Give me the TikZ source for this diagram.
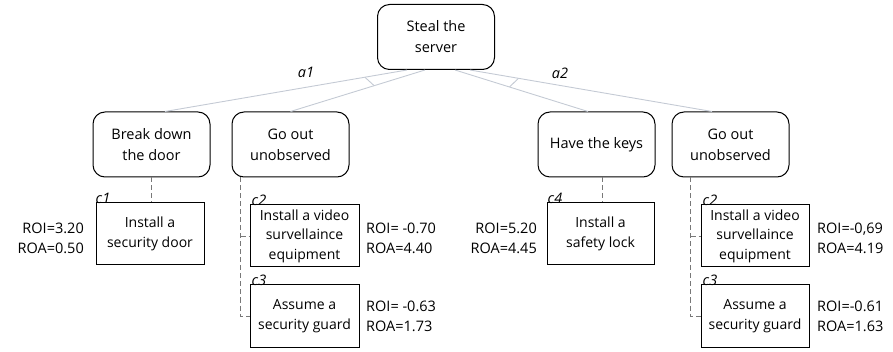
\documentclass[tikz,border=0pt]{standalone}
\usepackage{fontspec}
\setmainfont{Open Sans}
\usetikzlibrary{calc}
\begin{document}
\begin{tikzpicture}[x=1pt,y=-1pt,
  goal/.style={draw=black,line width=1pt,rounded corners=12pt,minimum width=117pt,minimum height=65pt,align=center,font=\fontsize{14.5}{21}\selectfont,inner sep=2pt},
  ctrl/.style={draw=black,line width=1pt,minimum width=108pt,minimum height=62pt,align=center,font=\fontsize{14}{19.5}\selectfont,inner sep=2pt},
  refine/.style={draw=edgegray,line width=0.9pt},
  cmlink/.style={draw=dashgray,line width=0.9pt,dash pattern=on 5pt off 3pt},
  lab/.style={font=\fontsize{14.5}{20}\selectfont\itshape,inner sep=0pt},
  clab/.style={font=\fontsize{14.5}{20}\selectfont\itshape,inner sep=0pt,anchor=south west},
  metr/.style={font=\fontsize{14.5}{20}\selectfont,inner sep=0pt}
]
\definecolor{edgegray}{RGB}{196,202,212}
\definecolor{dashgray}{RGB}{120,120,120}
\useasboundingbox (0,0) rectangle (893,352);

% goals
\node[goal] (root) at (436,37) {Steal the\\server};
\node[goal] (brk) at (151.5,144.5) {Break down\\the door};
\node[goal] (go1) at (290.5,144.5) {Go out\\unobserved};
\node[goal] (keys) at (596.5,144.5) {Have the keys};
\node[goal] (go2) at (730.5,144.5) {Go out\\unobserved};

% controls
\node[ctrl] (door) at (150,234) {Install a\\security door};
\node[ctrl,minimum width=109pt] (vid1) at (304.5,236) {Install a video\\survellaince\\equipment};
\node[ctrl,minimum width=109pt] (grd1) at (304.5,316) {Assume a\\security guard};
\node[ctrl,minimum width=107pt] (lock) at (600.5,234) {Install a\\safety lock};
\node[ctrl] (vid2) at (755,236) {Install a video\\survellaince\\equipment};
\node[ctrl] (grd2) at (755,316) {Assume a\\security guard};

% refinement edges
\coordinate (r1) at ([xshift=-29pt]root.south);
\coordinate (r2) at ([xshift=-11pt]root.south);
\coordinate (r3) at ([xshift=19pt]root.south);
\coordinate (r4) at ([xshift=34pt]root.south);
\coordinate (b1) at ([xshift=13.5pt]brk.north);
\coordinate (b2) at (go1.north);
\coordinate (b3) at ([xshift=-8.5pt]keys.north);
\coordinate (b4) at ([xshift=-18.5pt]go2.north);
\draw[refine] (r1) -- (b1);
\draw[refine] (r2) -- (b2);
\draw[refine] (r3) -- (b3);
\draw[refine] (r4) -- (b4);
\draw[refine] ($(r1)!0.174!(b1)$) -- ($(r2)!0.378!(b2)$);
\draw[refine] ($(r3)!0.41!(b3)$) -- ($(r4)!0.2!(b4)$);
\node[lab] (a1) at (306,72) {a1};
\node[lab] (a2) at (560,73) {a2};

% countermeasure links
\draw[cmlink] (brk.south) -- (brk.south |- door.north);
\coordinate (g1) at ([xshift=9pt]go1.south west);
\draw[cmlink] (g1) |- (grd1.west);
\draw[cmlink] (g1 |- vid1.west) -- (vid1.west);
\coordinate (k1) at ([xshift=2pt]lock.north);
\draw[cmlink] (k1 |- keys.south) -- (k1);
\coordinate (g2) at ([xshift=19pt]go2.south west);
\draw[cmlink] (g2) |- (grd2.west);
\draw[cmlink] (g2 |- vid2.west) -- (vid2.west);

% control labels
\node[clab] (c1) at ([yshift=-1pt]door.north west) {c1};
\node[clab] (c2) at ([xshift=2pt,yshift=-1pt]vid1.north west) {c2};
\node[clab] (c3) at ([xshift=2pt,yshift=-1pt]grd1.north west) {c3};
\node[clab] (c4) at ([xshift=1pt,yshift=-1pt]lock.north west) {c4};
\node[clab] (c2b) at ([xshift=2pt,yshift=-1pt]vid2.north west) {c2};
\node[clab] (c3b) at ([xshift=2pt,yshift=-1pt]grd2.north west) {c3};

% metrics
\node[metr,align=right,anchor=east] (m1) at (84,238) {ROI=3.20\\ROA=0.50};
\node[metr,align=left,anchor=west] (m2) at (366,238) {ROI= -0.70\\ROA=4.40};
\node[metr,align=left,anchor=west] (m3) at (366,316) {ROI= -0.63\\ROA=1.73};
\node[metr,align=right,anchor=east] (m4) at (537,238) {ROI=5.20\\ROA=4.45};
\node[metr,align=left,anchor=west] (m5) at (817,238) {ROI=-0,69\\ROA=4.19};
\node[metr,align=left,anchor=west] (m6) at (817,316) {ROI=-0.61\\ROA=1.63};
\end{tikzpicture}
\end{document}
